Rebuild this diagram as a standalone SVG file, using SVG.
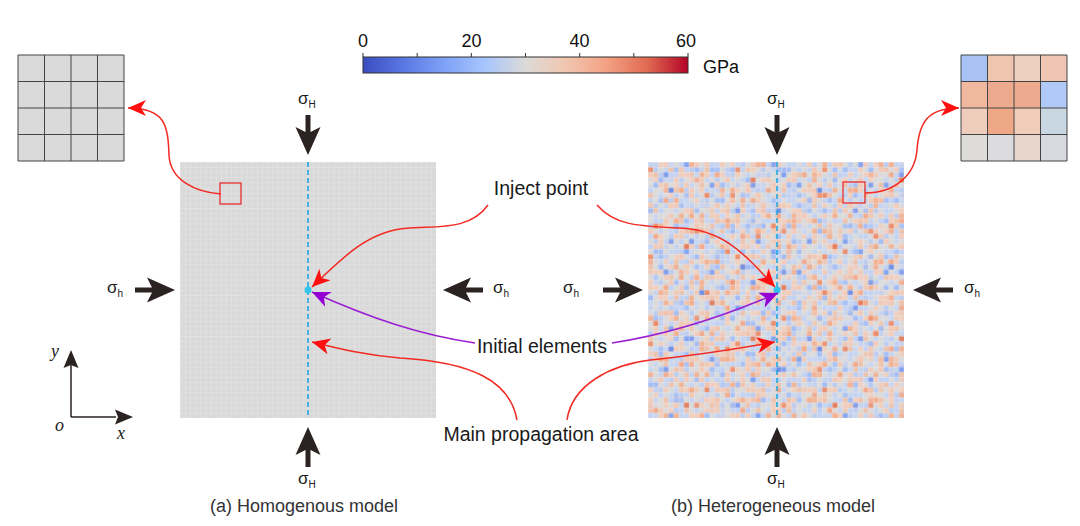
<svg xmlns="http://www.w3.org/2000/svg" xmlns:xlink="http://www.w3.org/1999/xlink" width="1080" height="526" viewBox="0 0 1080 526">
<style>
.lbl{font-family:"Liberation Sans",Arial,sans-serif;font-size:19.5px;fill:#1a1a1a;text-anchor:middle}
.cap{font-family:"Liberation Sans",Arial,sans-serif;font-size:18px;fill:#333;text-anchor:middle}
.sig{font-family:"Liberation Sans",Arial,sans-serif;font-size:17px;fill:#1a1a1a}
.sub{font-size:10px}
.cb{font-family:"Liberation Sans",Arial,sans-serif;font-size:18px;fill:#111;text-anchor:middle}
.ax{font-family:"Liberation Serif","Times New Roman",serif;font-style:italic;font-size:18px;fill:#1a1a1a}
.big{fill:#2b2322}
.red{fill:none;stroke:#f22a22;stroke-width:1.5}
.pur{fill:none;stroke:#9a1ed2;stroke-width:1.5}
.dash{stroke:#1fa8e0;stroke-width:1.6;stroke-dasharray:5 3}
.grid4{fill:none;stroke:#444;stroke-width:1}
</style>
<defs>
<linearGradient id="coolwarm" x1="0" y1="0" x2="1" y2="0">
<stop offset="0" stop-color="#3b4cc0"/>
<stop offset="0.125" stop-color="#5a78e4"/>
<stop offset="0.25" stop-color="#7ea2f7"/>
<stop offset="0.375" stop-color="#a7c5fd"/>
<stop offset="0.5" stop-color="#dcdad8"/>
<stop offset="0.625" stop-color="#f1c6b0"/>
<stop offset="0.75" stop-color="#f4a183"/>
<stop offset="0.875" stop-color="#e06a52"/>
<stop offset="1" stop-color="#b40426"/>
</linearGradient>
<path id="bigArrow" class="big" d="M0,0 L-28,-12.5 L-23,-2.5 L-40,-2.5 L-40,2.5 L-23,2.5 L-28,12.5 Z"/>
<marker id="arrRed" viewBox="-19 -9 20 18" markerWidth="20" markerHeight="18" refX="0" refY="0" orient="auto" markerUnits="userSpaceOnUse">
<path d="M0,0 L-18,-8 L-13,0 L-18,8 Z" fill="#ff1010"/>
</marker>
<marker id="arrPur" viewBox="-19 -9 20 18" markerWidth="20" markerHeight="18" refX="0" refY="0" orient="auto" markerUnits="userSpaceOnUse">
<path d="M0,0 L-18,-8 L-13,0 L-18,8 Z" fill="#9400d3"/>
</marker>
<pattern id="hgrid" patternUnits="userSpaceOnUse" width="1" height="1" patternTransform="translate(180 162) scale(5.12)">
<rect width="1" height="1" fill="#d9d9d9"/>
<path d="M0 0H1M0 0V1" stroke="#e4e4e4" stroke-width="0.25" fill="none"/>
</pattern>
<pattern id="hlines" patternUnits="userSpaceOnUse" width="1" height="1" patternTransform="translate(648 162) scale(5.12)">
<path d="M0 0H1M0 0V1" stroke="#ffffff" stroke-opacity="0.3" stroke-width="0.25" fill="none"/>
</pattern>
<pattern id="p1" patternUnits="userSpaceOnUse" width="7" height="7" patternTransform="translate(648 162) scale(5.12)">
<rect width="7" height="7" fill="#dbdadb"/>
<path fill="#c6d4ef" d="M0 0h1v1h-1zM3 1h1v1h-1zM5 2h1v1h-1zM1 4h1v1h-1zM6 5h1v1h-1zM2 6h1v1h-1zM4 3h1v1h-1zM6 0h1v1h-1z"/>
<path fill="#f0cfbf" d="M2 0h1v1h-1zM6 1h1v1h-1zM0 2h1v1h-1zM3 5h1v1h-1zM5 4h1v1h-1zM1 3h1v1h-1zM4 6h1v1h-1z"/>
<path fill="#bccdf0" d="M1 1h1v1h-1zM4 0h1v1h-1zM2 2h1v1h-1zM6 3h1v1h-1zM0 5h1v1h-1zM5 6h1v1h-1z"/>
<path fill="#eec3ae" d="M4 1h1v1h-1zM1 2h1v1h-1zM3 4h1v1h-1zM5 5h1v1h-1zM0 6h1v1h-1zM6 4h1v1h-1z"/>
</pattern>
<pattern id="p2" patternUnits="userSpaceOnUse" width="11" height="11" patternTransform="translate(648 162) scale(5.12)">
<path fill="#c3d2f2" d="M1 0h1v1h-1zM7 1h1v1h-1zM4 2h1v1h-1zM9 3h1v1h-1zM0 5h1v1h-1zM5 6h1v1h-1zM8 8h1v1h-1zM2 9h1v1h-1zM10 10h1v1h-1zM6 4h1v1h-1zM3 7h1v1h-1z"/>
<path fill="#f1ccba" d="M3 0h1v1h-1zM9 0h1v1h-1zM0 2h1v1h-1zM6 2h1v1h-1zM2 4h1v1h-1zM8 5h1v1h-1zM4 8h1v1h-1zM10 7h1v1h-1zM1 10h1v1h-1zM7 9h1v1h-1zM5 3h1v1h-1z"/>
<path fill="#a9c1f3" d="M5 1h1v1h-1zM2 7h1v1h-1zM9 9h1v1h-1zM7 6h1v1h-1z"/>
<path fill="#f1b497" d="M10 2h1v1h-1zM3 5h1v1h-1zM0 8h1v1h-1zM6 10h1v1h-1z"/>
</pattern>
<pattern id="p3" patternUnits="userSpaceOnUse" width="13" height="13" patternTransform="translate(648 162) scale(5.12)">
<path fill="#c8d6ef" d="M0 1h1v1h-1zM4 0h1v1h-1zM9 2h1v1h-1zM12 5h1v1h-1zM2 6h1v1h-1zM7 8h1v1h-1zM11 11h1v1h-1zM5 12h1v1h-1zM1 10h1v1h-1zM8 4h1v1h-1zM3 3h1v1h-1zM10 7h1v1h-1z"/>
<path fill="#efc9b6" d="M6 1h1v1h-1zM11 0h1v1h-1zM2 3h1v1h-1zM8 6h1v1h-1zM0 8h1v1h-1zM4 10h1v1h-1zM12 9h1v1h-1zM9 12h1v1h-1zM6 5h1v1h-1zM3 11h1v1h-1zM10 3h1v1h-1z"/>
<path fill="#a6bff4" d="M1 4h1v1h-1zM7 11h1v1h-1zM12 1h1v1h-1z"/>
<path fill="#f2b193" d="M5 7h1v1h-1zM10 10h1v1h-1zM2 12h1v1h-1zM8 0h1v1h-1z"/>
</pattern>
<pattern id="p4" patternUnits="userSpaceOnUse" width="17" height="17" patternTransform="translate(648 162) scale(5.12)">
<path fill="#a4bdf3" d="M2 3h1v1h-1zM9 1h1v1h-1zM14 7h1v1h-1zM5 12h1v1h-1zM11 15h1v1h-1zM0 9h1v1h-1zM16 13h1v1h-1z"/>
<path fill="#f1ac8e" d="M6 5h1v1h-1zM13 2h1v1h-1zM1 14h1v1h-1zM8 10h1v1h-1zM15 11h1v1h-1zM3 7h1v1h-1zM10 16h1v1h-1z"/>
<path fill="#86a5ee" d="M12 4h1v1h-1zM4 15h1v1h-1zM7 0h1v1h-1z"/>
<path fill="#ec9676" d="M0 1h1v1h-1zM16 6h1v1h-1zM9 13h1v1h-1z"/>
<path fill="#c4d3f1" d="M4 2h1v1h-1zM11 8h1v1h-1zM2 11h1v1h-1zM14 14h1v1h-1z"/>
<path fill="#f0cab8" d="M7 4h1v1h-1zM13 10h1v1h-1zM5 8h1v1h-1zM1 16h1v1h-1z"/>
</pattern>
<pattern id="p5" patternUnits="userSpaceOnUse" width="23" height="19" patternTransform="translate(648 162) scale(5.12)">
<path fill="#819fec" d="M3 2h1v1h-1zM17 9h1v1h-1zM8 15h1v1h-1zM20 4h1v1h-1z"/>
<path fill="#ea8e6d" d="M11 6h1v1h-1zM1 12h1v1h-1zM15 17h1v1h-1zM21 14h1v1h-1z"/>
<path fill="#a9c1f4" d="M6 8h1v1h-1zM13 1h1v1h-1zM19 12h1v1h-1zM2 17h1v1h-1z"/>
<path fill="#f2b293" d="M9 3h1v1h-1zM16 5h1v1h-1zM5 11h1v1h-1zM12 14h1v1h-1zM22 0h1v1h-1z"/>
</pattern>
<pattern id="p6" patternUnits="userSpaceOnUse" width="29" height="31" patternTransform="translate(648 162) scale(5.12)">
<path fill="#6f8ee6" d="M4 5h1v1h-1zM18 20h1v1h-1zM25 9h1v1h-1zM10 25h1v1h-1z"/>
<path fill="#e4805f" d="M12 27h1v1h-1zM26 24h1v1h-1zM7 16h1v1h-1zM20 3h1v1h-1z"/>
<path fill="#b5c9f3" d="M14 12h1v1h-1zM1 22h1v1h-1zM23 28h1v1h-1z"/>
<path fill="#f3bea6" d="M16 7h1v1h-1zM3 29h1v1h-1zM27 17h1v1h-1z"/>
</pattern>
</defs>

<rect width="1080" height="526" fill="#ffffff"/>

<g id="colorbar">
<rect x="363" y="57" width="325" height="16" fill="url(#coolwarm)" stroke="#333" stroke-width="1"/>
<path d="M363 57v-4M417.2 57v-4M471.3 57v-4M525.5 57v-4M579.7 57v-4M633.8 57v-4M688 57v-4" stroke="#333" stroke-width="1"/>
<text class="cb" x="363" y="47">0</text>
<text class="cb" x="471.5" y="47">20</text>
<text class="cb" x="579.5" y="47">40</text>
<text class="cb" x="686" y="47">60</text>
<text class="cb" x="703" y="73" style="text-anchor:start">GPa</text>
</g>

<g id="inset-left">
<rect x="18" y="55" width="106" height="106" fill="#dadada"/>
<path class="grid4" d="M18 55h106v106h-106zM44.5 55v106M71 55v106M97.5 55v106M18 81.5h106M18 108h106M18 134.5h106"/>
</g>

<g id="inset-right">
<rect x="961" y="55" width="26.5" height="26.5" fill="#a9c2f5"/>
<rect x="987.5" y="55" width="26.5" height="26.5" fill="#efc5b0"/>
<rect x="1014" y="55" width="26.5" height="26.5" fill="#efcfbf"/>
<rect x="1040.5" y="55" width="26.5" height="26.5" fill="#efc6b3"/>
<rect x="961" y="81.5" width="26.5" height="26.5" fill="#f0b89f"/>
<rect x="987.5" y="81.5" width="26.5" height="26.5" fill="#eeaa8e"/>
<rect x="1014" y="81.5" width="26.5" height="26.5" fill="#eeaa8e"/>
<rect x="1040.5" y="81.5" width="26.5" height="26.5" fill="#b1c9f7"/>
<rect x="961" y="108" width="26.5" height="26.5" fill="#efcdbc"/>
<rect x="987.5" y="108" width="26.5" height="26.5" fill="#eea886"/>
<rect x="1014" y="108" width="26.5" height="26.5" fill="#efcdb8"/>
<rect x="1040.5" y="108" width="26.5" height="26.5" fill="#c9d7e2"/>
<rect x="961" y="134.5" width="26.5" height="26.5" fill="#dddcd9"/>
<rect x="987.5" y="134.5" width="26.5" height="26.5" fill="#dcdcdf"/>
<rect x="1014" y="134.5" width="26.5" height="26.5" fill="#e8d5cb"/>
<rect x="1040.5" y="134.5" width="26.5" height="26.5" fill="#d7dae0"/>
<path class="grid4" d="M961 55h106v106h-106zM987.5 55v106M1014 55v106M1040.5 55v106M961 81.5h106M961 108h106M961 134.5h106"/>
</g>

<g id="model-a">
<rect x="180" y="162" width="256" height="256" fill="url(#hgrid)"/>
<line class="dash" x1="308" y1="162" x2="308" y2="418"/>
<circle cx="308" cy="290" r="3.5" fill="#30c4ea"/>
<rect x="220" y="183" width="21" height="21" fill="none" stroke="#e82020" stroke-width="1.2"/>
</g>

<g id="model-b">
<rect x="648" y="162" width="256" height="256" fill="url(#p1)"/>
<rect x="648" y="162" width="256" height="256" fill="url(#p2)"/>
<rect x="648" y="162" width="256" height="256" fill="url(#p3)"/>
<rect x="648" y="162" width="256" height="256" fill="url(#p4)"/>
<rect x="648" y="162" width="256" height="256" fill="url(#p5)"/>
<rect x="648" y="162" width="256" height="256" fill="url(#p6)"/>
<rect x="648" y="162" width="256" height="256" fill="url(#hlines)"/>
<line class="dash" x1="777" y1="162" x2="777" y2="418"/>
<circle cx="777" cy="290" r="3.5" fill="#30c4ea"/>
<rect x="843" y="182" width="22" height="21" fill="none" stroke="#e82020" stroke-width="1.2"/>
</g>

<g id="loads-a">
<use href="#bigArrow" transform="translate(308 155) rotate(90)"/>
<use href="#bigArrow" transform="translate(308 427) rotate(-90)"/>
<use href="#bigArrow" transform="translate(175 290)"/>
<use href="#bigArrow" transform="translate(443 290) rotate(180)"/>
<text class="sig" x="298" y="104">σ<tspan class="sub" dy="4">H</tspan></text>
<text class="sig" x="298" y="484">σ<tspan class="sub" dy="4">H</tspan></text>
<text class="sig" x="107" y="293">σ<tspan class="sub" dy="4">h</tspan></text>
<text class="sig" x="493" y="293">σ<tspan class="sub" dy="4">h</tspan></text>
</g>

<g id="loads-b">
<use href="#bigArrow" transform="translate(777 155) rotate(90)"/>
<use href="#bigArrow" transform="translate(777 427) rotate(-90)"/>
<use href="#bigArrow" transform="translate(643 290)"/>
<use href="#bigArrow" transform="translate(913 290) rotate(180)"/>
<text class="sig" x="767" y="104">σ<tspan class="sub" dy="4">H</tspan></text>
<text class="sig" x="767" y="484">σ<tspan class="sub" dy="4">H</tspan></text>
<text class="sig" x="563" y="293">σ<tspan class="sub" dy="4">h</tspan></text>
<text class="sig" x="964" y="293">σ<tspan class="sub" dy="4">h</tspan></text>
</g>

<g id="axes">
<path d="M71 417V364M71 417H116" stroke="#2b2322" stroke-width="1.5" fill="none"/>
<path class="big" d="M71 350L63.5 368L71 365L78.5 368Z"/>
<path class="big" d="M133 417L115 409.5L118 417L115 424.5Z"/>
<text class="ax" x="51" y="357">y</text>
<text class="ax" x="55" y="431">o</text>
<text class="ax" x="117" y="439">x</text>
</g>

<g id="connectors">
<path class="red" d="M221 194C195 192 170 180 169 155C168 125 165 108 128 108" marker-end="url(#arrRed)"/>
<path class="red" d="M865 193C895 193 915 175 917 150C919 122 928 108 959 108" marker-end="url(#arrRed)"/>
<path class="red" d="M488 205C470 230 440 226 410 228C370 230 345 255 312 287" marker-end="url(#arrRed)"/>
<path class="red" d="M597 205C615 226 640 226 680 228C725 230 745 255 775 287" marker-end="url(#arrRed)"/>
<path class="pur" d="M475 343C420 335 370 318 312 292" marker-end="url(#arrPur)"/>
<path class="pur" d="M612 343C665 335 720 318 778 293" marker-end="url(#arrPur)"/>
<path class="red" d="M517 420C510 380 470 362 400 358C365 355 340 349 312 342" marker-end="url(#arrRed)"/>
<path class="red" d="M567 420C572 385 610 365 650 360C700 355 735 349 775 342" marker-end="url(#arrRed)"/>
</g>

<g id="labels">
<text class="lbl" x="541" y="195">Inject point</text>
<text class="lbl" x="542" y="353">Initial elements</text>
<text class="lbl" x="541" y="441">Main propagation area</text>
<text class="cap" x="304" y="512">(a) Homogenous model</text>
<text class="cap" x="773" y="512">(b) Heterogeneous model</text>
</g>
</svg>
